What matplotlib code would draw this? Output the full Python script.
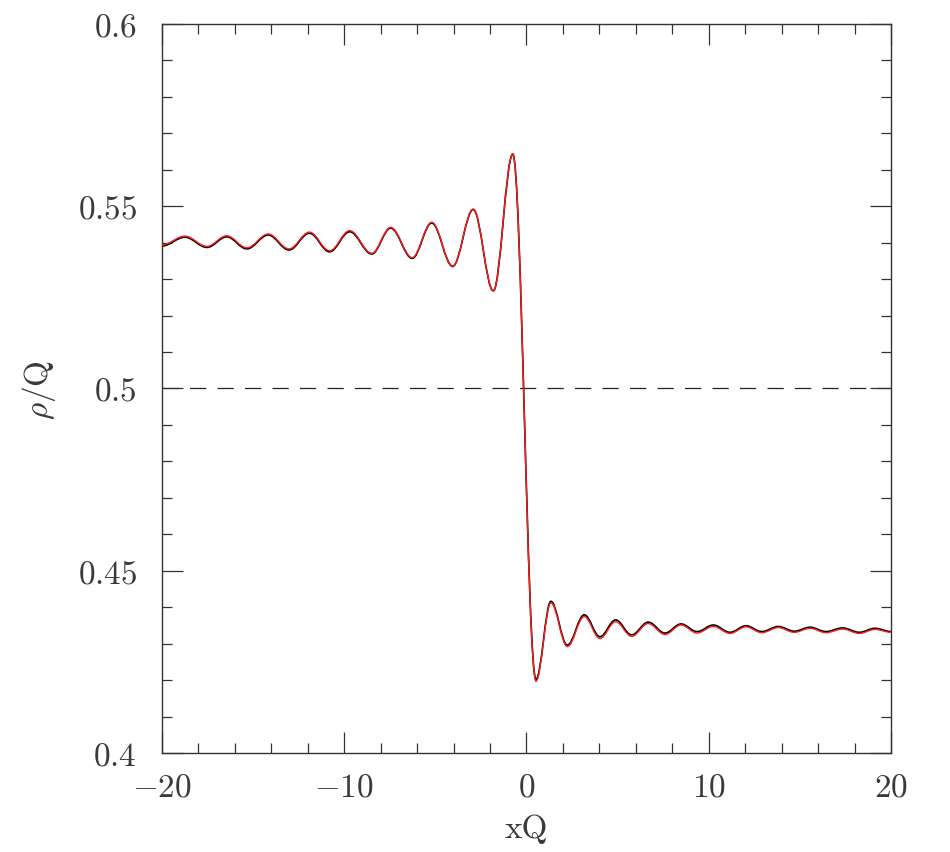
import matplotlib
matplotlib.use('Agg')
import matplotlib.pyplot as plt
from matplotlib.path import Path
from matplotlib.patches import PathPatch
from matplotlib.ticker import MultipleLocator

plt.rcParams['mathtext.fontset'] = 'cm'
plt.rcParams['font.family'] = ['cmr10', 'DejaVu Sans']

# extrema of the density profile (x in units of 1/Q)
x_ext = [-20.00, -18.74, -17.53, -16.45, -15.34, -14.17, -13.03, -11.91, -10.80,
         -9.70, -8.49, -7.45, -6.27, -5.20, -4.05, -2.92, -1.82, -0.75,
         0.52, 1.34, 2.24, 3.17, 4.03, 4.89, 5.77, 6.68, 7.60, 8.48, 9.36,
         10.25, 11.17, 12.04, 12.91, 13.82, 14.69, 15.56, 16.43, 17.35, 18.26,
         19.12, 20.00]
rho_black = [0.5391, 0.5415, 0.5387, 0.5416, 0.5383, 0.5421, 0.5380, 0.5426, 0.5375,
             0.5430, 0.5369, 0.5440, 0.5357, 0.5454, 0.5335, 0.5491, 0.5268, 0.5643,
             0.4202, 0.4416, 0.4296, 0.4379, 0.4319, 0.4365, 0.4324, 0.4359, 0.4329,
             0.4354, 0.4333, 0.4351, 0.4331, 0.4349, 0.4333, 0.4347, 0.4334, 0.4345,
             0.4333, 0.4343, 0.4331, 0.4342, 0.4333]
rho_red = [0.5394, 0.5418, 0.5390, 0.5419, 0.5386, 0.5424, 0.5383, 0.5429, 0.5378,
           0.5433, 0.5371, 0.5442, 0.5359, 0.5456, 0.5336, 0.5492, 0.5268, 0.5643,
           0.4197, 0.4412, 0.4292, 0.4374, 0.4314, 0.4360, 0.4320, 0.4355, 0.4325,
           0.4351, 0.4329, 0.4347, 0.4328, 0.4346, 0.4330, 0.4344, 0.4331, 0.4342,
           0.4330, 0.4340, 0.4328, 0.4339, 0.4331]

x_ticks = [-20, -10, 0, 10, 20]
x_labels = [r'$-20$', r'$-10$', r'$0$', r'$10$', r'$20$']
y_ticks = [0.4, 0.45, 0.5, 0.55, 0.6]
y_labels = [r'$0.4$', r'$0.45$', r'$0.5$', r'$0.55$', r'$0.6$']


def smooth_path(xs, ys, k=0.3634):
    # cubic segments with flat tangents at each extremum
    verts = [(xs[0], ys[0])]
    codes = [Path.MOVETO]
    for i in range(len(xs) - 1):
        dx = xs[i + 1] - xs[i]
        verts += [(xs[i] + k * dx, ys[i]), (xs[i + 1] - k * dx, ys[i + 1]),
                  (xs[i + 1], ys[i + 1])]
        codes += [Path.CURVE4] * 3
    return Path(verts, codes)


fig = plt.figure(figsize=(9.5, 8.53), dpi=100)
ax = fig.add_axes([0.1705, 0.1161, 0.7674, 0.8546])

ax.axhline(0.5, color='#222222', lw=0.9, ls=(0, (13, 9)), zorder=1)
ax.add_patch(PathPatch(smooth_path(x_ext, rho_black), fill=False,
                       edgecolor='black', lw=1.2, zorder=2))
ax.add_patch(PathPatch(smooth_path(x_ext, rho_red), fill=False,
                       edgecolor='#ff1a1a', lw=1.0, zorder=3))

ax.set_xlim(-20, 20)
ax.set_ylim(0.4, 0.6)
ax.set_xticks(x_ticks)
ax.set_xticklabels(x_labels)
ax.set_yticks(y_ticks)
ax.set_yticklabels(y_labels)
ax.xaxis.set_minor_locator(MultipleLocator(2))
ax.yaxis.set_minor_locator(MultipleLocator(0.01))

ax.tick_params(which='both', direction='in', top=True, right=True,
               color='#333333', width=0.9, labelsize=24, labelcolor='#3a3a3a')
ax.tick_params(axis='x', which='major', pad=14)
ax.tick_params(axis='y', which='major', pad=18)
ax.tick_params(which='major', length=15)
ax.tick_params(which='minor', length=7.5)
for s in ax.spines.values():
    s.set_color('#333333')
    s.set_linewidth(1.0)

ax.set_xlabel('xQ', fontsize=24, color='#3a3a3a', labelpad=9)
ax.set_ylabel(r'$\rho$/Q', fontsize=24, color='#3a3a3a', labelpad=14)

fig.savefig('out.png', dpi=100)
